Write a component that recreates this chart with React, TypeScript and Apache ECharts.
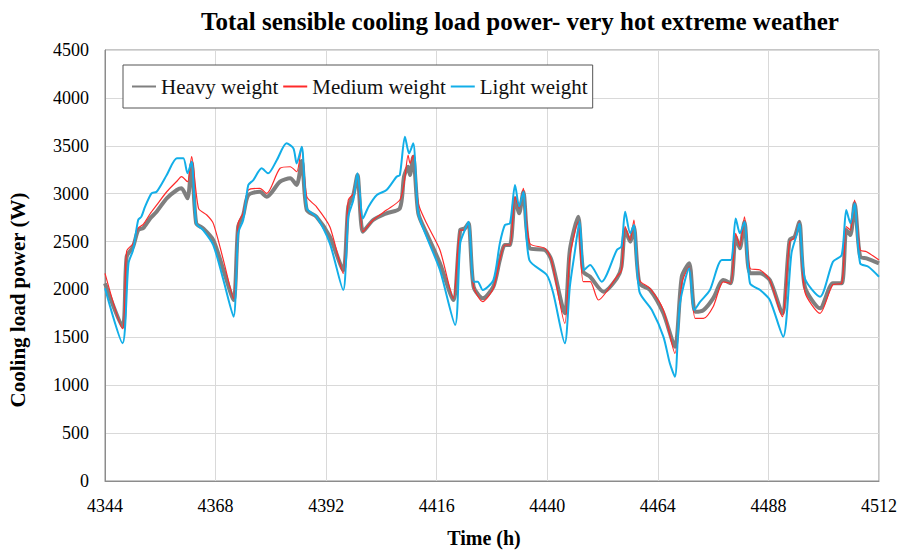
import React, { useEffect, useRef } from "react";
import * as echarts from "echarts";

const seriesNames = ["Heavy weight", "Medium weight", "Light weight"];
const xTickHours = [4344, 4368, 4392, 4416, 4440, 4464, 4488, 4512];
const yTicks = [0, 500, 1000, 1500, 2000, 2500, 3000, 3500, 4000, 4500];

// [hour, W]
const heavyWeight: [number, number][] = [
  [4344, 2064], [4347.8, 1611], [4348.7, 2342], [4350.1, 2446], [4351.2, 2620], [4352.3, 2641],
  [4353.8, 2742], [4355.2, 2812], [4357.4, 2951], [4359.6, 3038], [4360.6, 3056], [4361.9, 2951],
  [4362.8, 3317], [4363.8, 2690], [4365.3, 2638], [4367.5, 2516], [4369.7, 2203], [4371.9, 1890],
  [4372.9, 2655], [4374, 2777], [4375.1, 2986], [4377.6, 3020], [4379.1, 2968], [4382, 3125],
  [4384.2, 3160], [4385.6, 3090], [4386.7, 3340], [4387.8, 2829], [4389.9, 2759], [4392.8, 2550],
  [4395.7, 2203], [4396.8, 2864], [4397.9, 2986], [4398.8, 3195], [4400, 2603], [4402.2, 2725],
  [4405.1, 2795], [4408, 2847], [4408.9, 3177], [4409.8, 3281], [4410.2, 3195], [4410.9, 3386],
  [4412, 2795], [4413.8, 2586], [4416.7, 2273], [4419.6, 1890], [4421.1, 2620], [4422.1, 2638],
  [4422.9, 2690], [4424, 2030], [4426, 1907], [4428.3, 2029], [4429.7, 2307], [4430.8, 2464],
  [4431.9, 2464], [4433, 2951], [4433.9, 2795], [4434.8, 3020], [4436.2, 2429], [4439.5, 2412],
  [4440.9, 2307], [4443.8, 1751], [4444.9, 2412], [4446.7, 2759], [4447.8, 2185], [4449.3, 2133],
  [4452.2, 1976], [4455.1, 2116], [4456.1, 2237], [4456.9, 2620], [4458, 2498], [4458.8, 2655],
  [4460, 2064], [4462.3, 1994], [4465.2, 1751], [4467.7, 1402], [4469.2, 2133], [4470.8, 2273],
  [4472.1, 1768], [4473.9, 1785], [4476, 1907], [4478.2, 2098], [4479.8, 2064], [4480.9, 2550],
  [4481.8, 2429], [4482.8, 2707], [4484, 2168], [4486.2, 2168], [4488.3, 2098], [4491, 1751],
  [4492.6, 2516], [4493.7, 2550], [4494.7, 2707], [4495.9, 2029], [4499.2, 1803], [4502, 2064],
  [4503.9, 2064], [4504.9, 2620], [4505.8, 2568], [4506.7, 2899], [4507.9, 2342], [4509.3, 2325],
  [4512, 2273],
];

const mediumWeight: [number, number][] = [
  [4344, 2168], [4347.8, 1590], [4348.7, 2400], [4350.1, 2480], [4351.2, 2640], [4352.3, 2680],
  [4353.8, 2790], [4355.2, 2880], [4357.4, 3020], [4359.6, 3130], [4360.6, 3177], [4361.9, 3125],
  [4362.8, 3386], [4364.3, 2847], [4366.1, 2777], [4367.5, 2690], [4369.7, 2307], [4371.9, 1907],
  [4372.9, 2690], [4374, 2800], [4375.1, 3038], [4377.6, 3056], [4379.1, 3003], [4382, 3265],
  [4384.2, 3281], [4385.6, 3229], [4386.7, 3490], [4387.8, 2968], [4389.9, 2864], [4392.8, 2655],
  [4395.7, 2168], [4396.8, 2934], [4397.9, 3000], [4398.8, 3195], [4400, 2603], [4402.2, 2725],
  [4405.1, 2829], [4408, 2934], [4408.9, 3100], [4409.8, 3403], [4410.2, 3316], [4410.9, 3400],
  [4412, 2899], [4413.8, 2690], [4416.7, 2412], [4419.6, 1907], [4421.1, 2620], [4422.1, 2620],
  [4422.9, 2690], [4424, 2029], [4426, 1872], [4428.3, 2012], [4429.7, 2307], [4430.8, 2464],
  [4431.9, 2464], [4433, 2968], [4433.9, 2847], [4434.8, 3056], [4436.2, 2481], [4439.5, 2429],
  [4440.9, 2307], [4443.8, 1646], [4444.9, 2342], [4446.7, 2707], [4447.8, 2081], [4449.3, 2081],
  [4451.1, 1890], [4455.1, 2133], [4456.1, 2200], [4456.9, 2655], [4458, 2516], [4458.8, 2725],
  [4460, 2098], [4462.3, 2012], [4465.2, 1785], [4467.7, 1333], [4469.2, 2064], [4470.8, 2237],
  [4472.1, 1698], [4473.9, 1698], [4476, 1820], [4478.2, 2080], [4479.8, 2064], [4480.9, 2586],
  [4481.8, 2450], [4482.8, 2759], [4484, 2220], [4486.2, 2203], [4488.3, 2098], [4491, 1716],
  [4492.6, 2500], [4493.7, 2540], [4494.7, 2707], [4495.9, 1976], [4499.2, 1751], [4502, 2050],
  [4503.9, 2064], [4504.9, 2655], [4505.8, 2620], [4506.7, 2934], [4507.9, 2412], [4509.3, 2394],
  [4512, 2307],
];

const lightWeight: [number, number][] = [
  [4344, 2012], [4347.8, 1438], [4349.1, 2273], [4350.1, 2412], [4351.2, 2725], [4351.9, 2760],
  [4352.7, 2864], [4354.1, 3003], [4355.2, 3020], [4357.4, 3195], [4359.6, 3369], [4361, 3369],
  [4361.9, 3212], [4362.8, 3334], [4363.8, 2690], [4365.3, 2620], [4367.5, 2464], [4369.7, 2098],
  [4371.9, 1716], [4372.9, 2586], [4374, 2725], [4375.1, 3090], [4376.2, 3142], [4378, 3265],
  [4379.4, 3212], [4381.3, 3351], [4383.4, 3526], [4384.9, 3473], [4385.6, 3316], [4386.7, 3490],
  [4387.8, 2847], [4389.9, 2759], [4392.8, 2481], [4395.7, 1994], [4396.8, 2759], [4397.9, 2934],
  [4398.8, 3212], [4400, 2742], [4401.2, 2864], [4403, 2986], [4405.1, 3038], [4407.3, 3177],
  [4408, 3195], [4409.1, 3595], [4410, 3421], [4410.9, 3526], [4412, 2795], [4413.8, 2550],
  [4416.7, 2203], [4420, 1630], [4421.1, 2481], [4422.1, 2620], [4422.9, 2707], [4424, 2081],
  [4424.9, 2081], [4426, 1994], [4428.3, 2098], [4429.7, 2481], [4430.8, 2673], [4431.9, 2690],
  [4433, 3090], [4433.9, 2864], [4434.8, 3020], [4436.1, 2307], [4439.9, 2151], [4441.3, 1960],
  [4443.8, 1438], [4444.9, 2029], [4446, 2400], [4447, 2707], [4448, 2203], [4449.3, 2255],
  [4451.8, 2081], [4455.1, 2412], [4456.1, 2450], [4456.9, 2812], [4458, 2586], [4458.8, 2673],
  [4460, 1976], [4462.7, 1785], [4465.2, 1507], [4466.6, 1229], [4467.7, 1089], [4468.8, 1855],
  [4470.8, 2220], [4471.9, 1785], [4473.2, 1872], [4475.3, 1994], [4477.9, 2307], [4479.8, 2307],
  [4480.9, 2742], [4481.8, 2586], [4482.8, 2707], [4484, 2064], [4486.2, 1994], [4488.3, 1890],
  [4491.2, 1507], [4493, 2377], [4494.1, 2568], [4494.7, 2690], [4495.9, 2116], [4499.2, 1924],
  [4502, 2290], [4503.9, 2360], [4504.9, 2829], [4505.8, 2690], [4506.7, 2899], [4507.9, 2273],
  [4509.7, 2237], [4512, 2133],
];

const FONT = '"Liberation Serif", "Times New Roman", serif';

export default function App() {
  const ref = useRef<HTMLDivElement>(null);
  useEffect(() => {
    if (!ref.current) return;
    const chart = echarts.init(ref.current, null, { renderer: "svg" });
    chart.setOption({
      animation: false,
      backgroundColor: "#ffffff",
      grid: {
        left: 105,
        right: 22,
        top: 50,
        bottom: 71,
        show: true,
        borderColor: "#8c8c8c",
        borderWidth: 1,
      },
      graphic: [
        {
          type: "text",
          x: 520,
          y: 21,
          style: {
            text: "Total sensible cooling load power- very hot extreme weather",
            font: `bold 25px ${FONT}`,
            fill: "#000",
            textAlign: "center",
            textVerticalAlign: "middle",
          },
        },
        {
          type: "text",
          x: 18,
          y: 300,
          rotation: Math.PI / 2,
          style: {
            text: "Cooling load power (W)",
            font: `bold 21px ${FONT}`,
            fill: "#000",
            textAlign: "center",
            textVerticalAlign: "middle",
          },
        },
        {
          type: "text",
          x: 484,
          y: 538,
          style: {
            text: "Time (h)",
            font: `bold 20px ${FONT}`,
            fill: "#000",
            textAlign: "center",
            textVerticalAlign: "middle",
          },
        },
      ],
      legend: {
        left: 123,
        top: 65,
        orient: "horizontal",
        padding: [11, 5, 11, 8],
        itemGap: 4,
        itemWidth: 24,
        itemHeight: 14,
        itemStyle: { opacity: 0 },
        borderColor: "#555",
        borderWidth: 1,
        backgroundColor: "#fff",
        textStyle: { fontFamily: FONT, fontSize: 21, color: "#111" },
        data: seriesNames,
      },
      xAxis: {
        type: "value",
        min: 4344,
        max: 4512,
        interval: 24,
        axisLine: { show: true, lineStyle: { color: "#8c8c8c" } },
        axisTick: { show: false },
        splitLine: { show: true, lineStyle: { color: "#d9d9d9" } },
        axisLabel: {
          fontFamily: FONT,
          fontSize: 18,
          color: "#000",
          margin: 16,
          formatter: (v: number) => (xTickHours.includes(v) ? String(v) : ""),
        },
      },
      yAxis: {
        type: "value",
        min: 0,
        max: 4500,
        interval: 500,
        axisLine: { show: true, lineStyle: { color: "#8c8c8c" } },
        axisTick: { show: false },
        splitLine: { show: true, lineStyle: { color: "#d9d9d9" } },
        axisLabel: {
          fontFamily: FONT,
          fontSize: 18,
          color: "#000",
          margin: 16,
          formatter: (v: number) => (yTicks.includes(v) ? String(v) : ""),
        },
      },
      series: [
        {
          name: seriesNames[0],
          type: "line",
          data: heavyWeight,
          symbol: "none",
          smooth: 0.25,
          lineStyle: { color: "#7f7f7f", width: 4 },
          itemStyle: { color: "#7f7f7f" },
        },
        {
          name: seriesNames[1],
          type: "line",
          data: mediumWeight,
          symbol: "none",
          smooth: 0.25,
          lineStyle: { color: "#ff2a2a", width: 1.2 },
          itemStyle: { color: "#ff2a2a" },
        },
        {
          name: seriesNames[2],
          type: "line",
          data: lightWeight,
          symbol: "none",
          smooth: 0.25,
          lineStyle: { color: "#12aee8", width: 2 },
          itemStyle: { color: "#12aee8" },
        },
      ],
    });
    return () => chart.dispose();
  }, []);
  return (
    <div
      ref={ref}
      style={{ position: "absolute", left: 0, top: 0, width: 901, height: 552 }}
    />
  );
}
